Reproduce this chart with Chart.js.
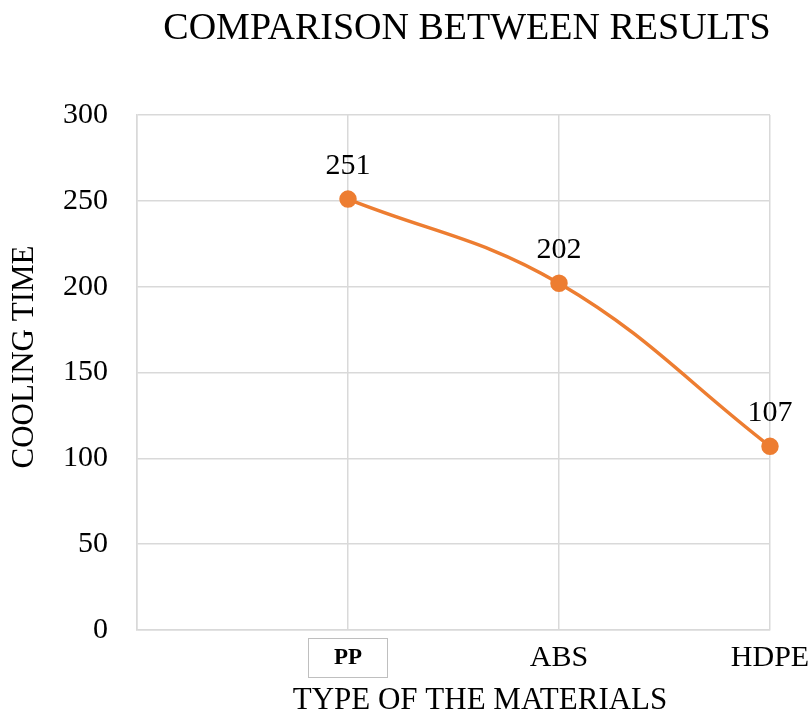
<!DOCTYPE html>
<html>
<head>
<meta charset="utf-8">
<script src="https://cdn.jsdelivr.net/npm/chart.js@4/dist/chart.umd.min.js"></script>
<style>
  html, body { margin: 0; padding: 0; background: #fff; }
  #wrap { width: 810px; height: 720px; }
</style>
</head>
<body>
<div id="wrap"><canvas id="coolingChart"></canvas></div>
<script>
// chart data
const materials = ['', 'PP', 'ABS', 'HDPE'];
const coolingTime = [null, 251, 202, 107];
const yTicks = [0, 50, 100, 150, 200, 250, 300];

const serif = '"Liberation Serif", "Times New Roman", serif';
const orange = '#ED7D31';
const gridGrey = '#d9d9d9';

// titles, value labels and the box round PP
const extras = {
    id: 'extras',
    afterDatasetsDraw(chart) {
        const ctx = chart.ctx;
        const meta = chart.getDatasetMeta(0);
        ctx.save();
        ctx.fillStyle = '#000';
        ctx.font = '30px ' + serif;
        ctx.textAlign = 'center';
        ctx.textBaseline = 'alphabetic';
        meta.data.forEach((pt, i) => {
            const v = coolingTime[i];
            if (v === null) return;
            ctx.fillText(String(v), pt.x, pt.y - 25);
        });
        ctx.restore();
    },
    afterDraw(chart) {
        const ctx = chart.ctx;
        ctx.save();
        ctx.fillStyle = '#000';
        ctx.textAlign = 'center';
        ctx.textBaseline = 'alphabetic';
        ctx.font = '38px ' + serif;
        ctx.fillText('COMPARISON BETWEEN RESULTS', 467, 39);
        ctx.font = '31px ' + serif;
        ctx.fillText('TYPE OF THE MATERIALS', 480, 709);

        // y axis title
        ctx.save();
        ctx.translate(33, 357);
        ctx.rotate(-Math.PI / 2);
        ctx.font = '31px ' + serif;
        ctx.fillText('COOLING TIME', 0, 0);
        ctx.restore();

        // box round the PP label
        const px = chart.scales.x.getPixelForValue(1);
        ctx.strokeStyle = '#bfbfbf';
        ctx.lineWidth = 1;
        ctx.strokeRect(Math.round(px - 40) + 0.5, 638.5, 79, 39);
        ctx.restore();
    }
};

new Chart(document.getElementById('coolingChart'), {
    type: 'line',
    data: {
        labels: materials,
        datasets: [{
            data: coolingTime,
            borderColor: orange,
            backgroundColor: orange,
            borderWidth: 3.5,
            pointRadius: 7,
            pointBackgroundColor: orange,
            pointBorderColor: orange,
            tension: 0.4,
            fill: false
        }]
    },
    options: {
        responsive: true,
        maintainAspectRatio: false,
        animation: false,
        layout: { padding: { top: 115, right: 40, bottom: 0, left: 0 } },
        plugins: {
            legend: { display: false },
            title: { display: false },
            tooltip: { enabled: false }
        },
        scales: {
            x: {
                offset: false,
                afterFit(scale) {
                    scale.height = 90;
                    scale.paddingLeft = 0;
                    scale.paddingRight = 0;
                },
                grid: { color: gridGrey, lineWidth: 1.5, drawTicks: false },
                border: { color: gridGrey, width: 1.5 },
                ticks: {
                    padding: 10,
                    color: '#000',
                    maxRotation: 0,
                    autoSkip: false,
                    font: c => c.index === 1
                        ? { family: serif, size: 23, weight: 'bold', lineHeight: 1.57 }
                        : { family: serif, size: 30 }
                }
            },
            y: {
                min: 0,
                max: 300,
                afterFit(scale) { scale.width = 137; },
                afterBuildTicks(scale) { scale.ticks = yTicks.map(v => ({ value: v })); },
                grid: { color: gridGrey, lineWidth: 1.5, drawTicks: false },
                border: { color: gridGrey, width: 1.5 },
                ticks: {
                    padding: 29,
                    color: '#000',
                    font: { family: serif, size: 30 }
                }
            }
        }
    },
    plugins: [extras]
});
</script>
</body>
</html>
